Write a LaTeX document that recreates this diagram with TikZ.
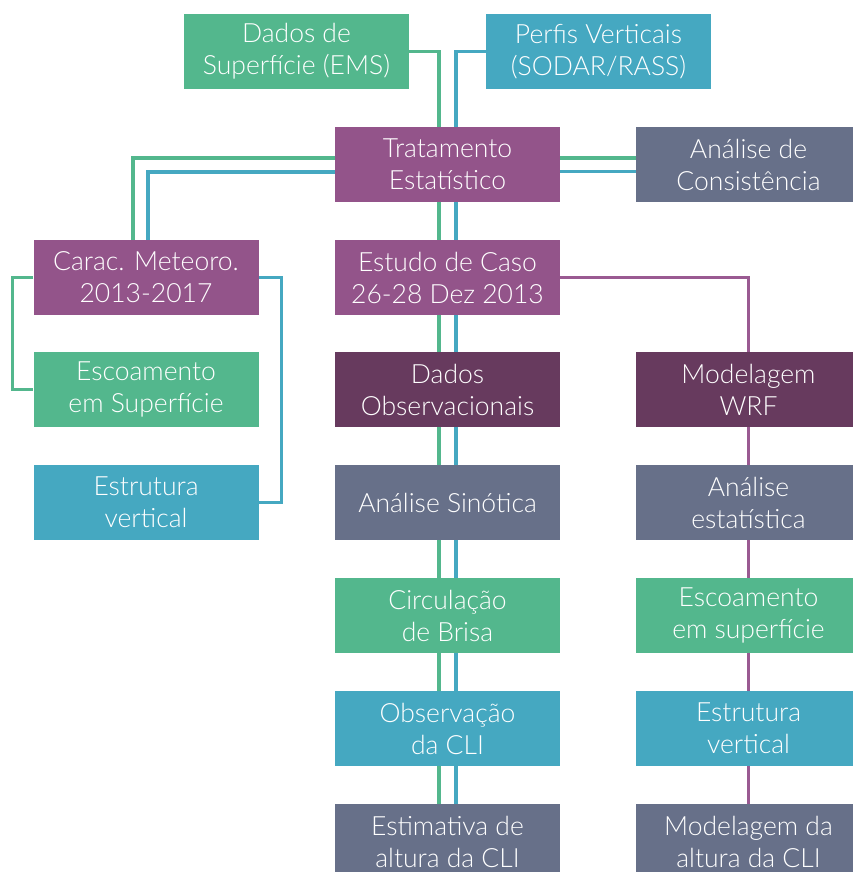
\documentclass[tikz,border=0pt]{standalone}
\usepackage{fontspec}
\setmainfont{Lato Light}
\usetikzlibrary{backgrounds}
\definecolor{cgreen}{HTML}{53B78D}
\definecolor{cblue}{HTML}{45A8C1}
\definecolor{cpurple}{HTML}{93548A}
\definecolor{cdark}{HTML}{673A5E}
\definecolor{cslate}{HTML}{677089}
\definecolor{clpurple}{HTML}{9A5A92}
\tikzset{
  box/.style={minimum width=225pt, minimum height=75pt, inner sep=0pt, text=white,
    align=center, font=\fontsize{26.5}{32}\selectfont},
  gbox/.style={box, fill=cgreen},
  bbox/.style={box, fill=cblue},
  pbox/.style={box, fill=cpurple},
  dbox/.style={box, fill=cdark},
  sbox/.style={box, fill=cslate},
  gl/.style={draw=cgreen, line width=3.2pt},
  bl/.style={draw=cblue, line width=3.2pt},
  pl/.style={draw=clpurple, line width=3.2pt},
}
\begin{document}
\begin{tikzpicture}[x=1pt,y=-1pt]
\useasboundingbox (0,0) rectangle (853,872);
\clip (0,0) rectangle (853,872);
\node[gbox] (dsup) at (296.5,51.5) {Dados de\\Superfície (EMS)};
\node[bbox] (perf) at (598.5,51.5) {Perfis Verticais\\(SODAR/RASS)};
\node[pbox] (trat) at (447.5,164.5) {Tratamento\\Estatístico};
\node[sbox] (cons) at (748.5,164.5) {Análise de\\Consistência};
\node[pbox] (carac) at (146,277.5) {Carac. Meteoro.\\2013-2017};
\node[gbox] (esc) at (146,389.5) {Escoamento\\em Superfície};
\node[bbox] (estr) at (146,502.5) {Estrutura\\vertical};
\node[pbox] (caso) at (447.5,277.5) {Estudo de Caso\\26-28 Dez 2013};
\node[dbox] (obs) at (447.5,389.5) {Dados\\Observacionais};
\node[sbox] (sin) at (447.5,502.5) {Análise Sinótica};
\node[gbox] (bri) at (447.5,615.5) {Circulação\\de Brisa};
\node[bbox] (cli) at (447.5,728.5) {Observação\\da CLI};
\node[sbox] (est) at (447.5,841.5) {Estimativa de\\altura da CLI};
\node[dbox] (wrf) at (748.5,389.5) {Modelagem\\WRF};
\node[sbox] (aest) at (748.5,502.5) {Análise\\estatística};
\node[gbox] (esup) at (748.5,615.5) {Escoamento\\em superfície};
\node[bbox] (evert) at (748.5,728.5) {Estrutura\\vertical};
\node[sbox] (malt) at (748.5,841.5) {Modelagem da\\altura da CLI};
\begin{scope}[on background layer]
\draw[gl] (dsup.east) -| ([xshift=-8.5pt]trat.north);
\draw[bl] (perf.west) -| ([xshift=8.5pt]trat.north);
\foreach \a/\b in {trat/caso, caso/obs, obs/sin, sin/bri, bri/cli, cli/est}{
  \draw[gl] ([xshift=-8.5pt]\a.south) -- ([xshift=-8.5pt]\b.north);
  \draw[bl] ([xshift=8.5pt]\a.south) -- ([xshift=8.5pt]\b.north);
}
\draw[gl] ([yshift=6.5pt]trat.west) -| ([xshift=-13pt]carac.north);
\draw[bl] ([yshift=-7.5pt]trat.west) -| ([xshift=2pt]carac.north);
\draw[gl] ([yshift=6.5pt]trat.east) -- ([yshift=6.5pt]cons.west);
\draw[bl] ([yshift=-7pt]trat.east) -- ([yshift=-7pt]cons.west);
\draw[gl] (carac.west) -- ([xshift=-21pt]carac.west) |- (esc.west);
\draw[bl] (carac.east) -- ([xshift=23pt]carac.east) |- (estr.east);
\draw[pl] (caso.east) -| (wrf.north);
\foreach \a/\b in {wrf/aest, aest/esup, esup/evert, evert/malt}{
  \draw[pl] (\a.south) -- (\b.north);
}
\end{scope}
\end{tikzpicture}
\end{document}
